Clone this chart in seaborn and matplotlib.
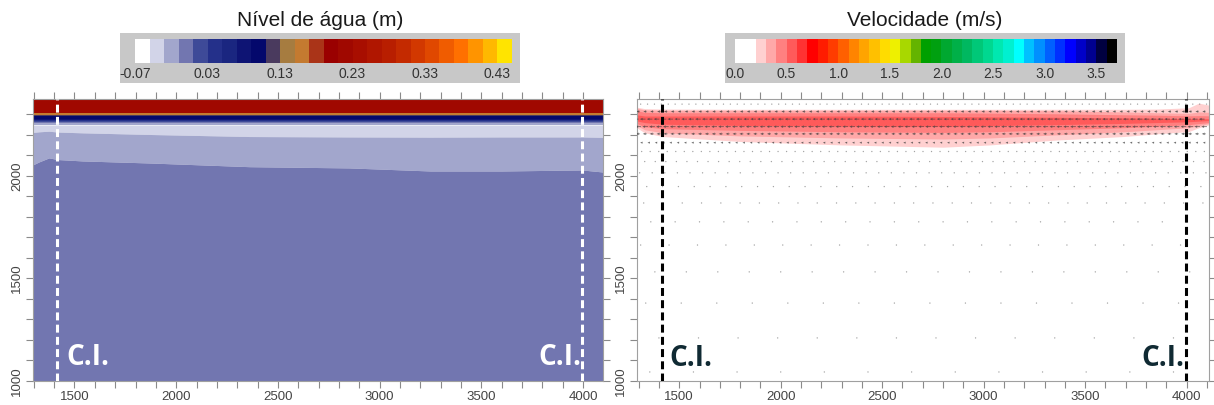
import numpy as np
import matplotlib
matplotlib.use("Agg")
import matplotlib.pyplot as plt
from matplotlib.colors import ListedColormap, BoundaryNorm
from matplotlib.cm import ScalarMappable
from matplotlib.patches import Rectangle
from matplotlib.ticker import MultipleLocator, FuncFormatter, NullLocator
import seaborn as sns

sns.set_theme(style="ticks")
plt.rcParams["font.family"] = ["Liberation Sans", "DejaVu Sans"]

# ---------------- colour scales ----------------
level_edges = np.round(np.arange(-0.07, 0.4501, 0.02), 2)
level_colors = ["#ffffff", "#d2d4e8", "#a2a6cc", "#7276b0", "#3e4a98", "#24308a",
                "#1a2680", "#0e1474", "#04086c", "#4a3a5e", "#a67c40", "#c47a30",
                "#aa3418", "#9a0000", "#a00800", "#a80e00", "#b01600", "#b81e00",
                "#c42a00", "#d23800", "#e04800", "#f05c00", "#ff7000", "#ff9400",
                "#ffb800", "#ffe400"]
level_ticks = [-0.07, 0.03, 0.13, 0.23, 0.33, 0.43]

speed_edges = np.round(np.arange(0.0, 3.7001, 0.1), 1)
speed_colors = ["#ffffff", "#ffffff", "#ffd0d0", "#ffa8a8", "#ff8080", "#ff5a5a",
                "#ff3232", "#ff0000", "#ff1c00", "#ff3c00", "#ff6000", "#ff8400",
                "#ffa400", "#ffc000", "#ffdc00", "#eef000", "#a8d800", "#64b400",
                "#00a000", "#00a010", "#00a830", "#00b048", "#00b860", "#00c878",
                "#00d890", "#00e8b0", "#00f0d0", "#00ffff", "#00c0ff", "#0090ff",
                "#0060ff", "#0030ff", "#0000ff", "#0000c8", "#000090", "#000040",
                "#000000"]
speed_ticks = [0.0, 0.5, 1.0, 1.5, 2.0, 2.5, 3.0, 3.5]

# ---------------- water level field (bands from the surface down) ----------------
lvl_x = [1296, 1325, 1375, 1415, 1540, 1870, 2360, 2850, 3250, 3600, 3995, 4098]
lvl_top = 2375
lvl_values = [0.21, 0.16, 0.14, 0.12, 0.10, 0.07, 0.04, 0.02, 0.00, -0.02, -0.04, -0.02, 0.00]
lvl_bottom_thin = [2305, 2299, 2296, 2293, 2279, 2273, 2268, 2263, 2257, 2248]
lvl_bottom_min = [2212, 2215, 2218, 2214, 2210, 2202, 2192, 2190, 2189, 2190, 2190, 2188]
lvl_bottom_low = [2054, 2068, 2088, 2080, 2073, 2063, 2045, 2039, 2024, 2024, 2029, 2019]
lvl_floor = 1000

# ---------------- velocity field ----------------
vel_x = [1292, 1330, 1420, 1800, 2300, 2800, 3030, 3360, 3690, 3850, 4010, 4060, 4110]
vel_values = [0.25, 0.35, 0.45, 0.55]
vel_top = [
    [2335, 2328, 2326, 2325, 2325, 2325, 2325, 2325, 2325, 2326, 2332, 2355, 2345],
    [2330, 2322, 2320, 2320, 2320, 2320, 2320, 2318, 2312, 2308, 2305, 2312, 2310],
    [2318, 2310, 2308, 2308, 2308, 2308, 2306, 2303, 2298, 2296, 2293, 2294, 2293],
    [2298, 2292, 2292, 2292, 2292, 2290, 2288, 2286, 2283, 2281, 2279, 2279, 2279],
]
vel_bottom = [
    [2234, 2210, 2192, 2168, 2151, 2140, 2151, 2175, 2192, 2205, 2216, 2235, 2249],
    [2245, 2225, 2210, 2195, 2185, 2180, 2185, 2200, 2215, 2225, 2235, 2245, 2255],
    [2255, 2240, 2230, 2222, 2215, 2212, 2215, 2225, 2235, 2242, 2250, 2255, 2260],
    [2268, 2260, 2252, 2246, 2243, 2242, 2245, 2250, 2256, 2260, 2264, 2267, 2270],
]

# mesh rows carrying the velocity vectors
row_y = [2350, 2314, 2277, 2240, 2205, 2162, 2119, 2070, 2015, 1948, 1868, 1776, 1663, 1532, 1380, 1210, 1044]
row_step = [34, 34, 34, 34, 34, 36, 42, 52, 62, 78, 95, 120, 140, 155, 175, 195, 215]
row_speed = [0.04, 0.45, 0.8, 0.8, 0.55, 0.35, 0.15, 0.08, 0.05, 0.03, 0.02, 0.02,
             0.015, 0.012, 0.01, 0.01, 0.01]
row_shift = [10, 5, 0, 12, 6, 20, 15, 30, 5, 40, 25, 60, 10, 80, 35, 100, 55]

boundary_x = [1415, 3995]

# ---------------- figure ----------------
W, H = 1214, 405
fig = plt.figure(figsize=(W / 100, H / 100), dpi=100)


def fig_rect(x0, y0, x1, y1):
    return [x0 / W, 1 - y1 / H, (x1 - x0) / W, (y1 - y0) / H]


ax_l = fig.add_axes(fig_rect(33, 99, 603, 381))
ax_r = fig.add_axes(fig_rect(637, 99, 1209, 381))

lvl_cmap = ListedColormap(level_colors)
lvl_norm = BoundaryNorm(level_edges, lvl_cmap.N)
vel_cmap = ListedColormap(speed_colors)
vel_norm = BoundaryNorm(speed_edges, vel_cmap.N)

# water level bands
bottoms = [np.full(len(lvl_x), b, dtype=float) for b in lvl_bottom_thin]
bottoms += [np.array(lvl_bottom_min, float), np.array(lvl_bottom_low, float),
            np.full(len(lvl_x), lvl_floor, dtype=float)]
upper = np.full(len(lvl_x), lvl_top, dtype=float)
for val, low in zip(lvl_values, bottoms):
    ax_l.fill_between(lvl_x, low, upper, color=lvl_cmap(lvl_norm(val)), lw=0)
    upper = low

# velocity bands
for val, top, bot in zip(vel_values, vel_top, vel_bottom):
    ax_r.fill_between(vel_x, bot, top, color=vel_cmap(vel_norm(val)), lw=0)

# velocity vectors: strong rows in dark grey, weak rows as faint points
groups = {True: ([], [], []), False: ([], [], [])}
for y, step, spd, sh in zip(row_y, row_step, row_speed, row_shift):
    xs = np.arange(1300 + sh, 4105, step)
    gx, gy, gu = groups[spd >= 0.3]
    gx.extend(xs)
    gy.extend([y] * len(xs))
    gu.extend([-spd] * len(xs))
for strong, (gx, gy, gu) in groups.items():
    gx, gy, gu = map(np.asarray, (gx, gy, gu))
    ax_r.quiver(gx, gy, gu, np.zeros_like(gu), angles="xy", scale_units="xy",
                scale=0.8 / 28, width=0.0013, headwidth=3.5, headlength=4,
                headaxislength=3.5, minlength=2,
                color="#3a3a3a" if strong else "#8c8c8c",
                alpha=0.75 if strong else 0.8, zorder=3)

# boundary condition markers
for ax, col in ((ax_l, "white"), (ax_r, "black")):
    for bx in boundary_x:
        ax.axvline(bx, color=col, lw=2.2, ls=(0, (2.6, 1.4)), zorder=4)

ci_font = dict(family=["Open Sans", "DejaVu Sans"], fontweight="bold", fontsize=20)
ax_l.text(boundary_x[0] + 45, 1078, "C.I.", color="white", ha="left", va="baseline", **ci_font)
ax_l.text(boundary_x[1] - 5, 1078, "C.I.", color="white", ha="right", va="baseline", **ci_font)
ax_r.text(boundary_x[0] + 35, 1075, "C.I.", color="#102a33", ha="left", va="baseline", **ci_font)
ax_r.text(boundary_x[1] - 5, 1075, "C.I.", color="#102a33", ha="right", va="baseline", **ci_font)

fmt = FuncFormatter(lambda v, p: f"{int(round(v))}" if int(round(v)) % 500 == 0 else "")
for ax, xl in ((ax_l, (1296, 4098)), (ax_r, (1292, 4110))):
    ax.set_xlim(*xl)
    ax.set_ylim(1000, 2375)
    ax.set_facecolor("white")
    ax.xaxis.set_major_locator(MultipleLocator(100))
    ax.yaxis.set_major_locator(MultipleLocator(100))
    ax.xaxis.set_major_formatter(fmt)
    ax.yaxis.set_major_formatter(fmt)
    ax.tick_params(which="both", direction="out", length=5, width=0.8, color="#8a8a8a",
                   labelcolor="#444444", labelsize=9.5, top=True, right=True,
                   labeltop=False, labelright=False, pad=2)
    ax.tick_params(axis="y", labelrotation=90)
    for lbl in ax.get_yticklabels():
        lbl.set_va("center")
    for sp in ax.spines.values():
        sp.set_color("#a0a0a0")
        sp.set_linewidth(0.8)
    ax.grid(False)

# colour bars in grey frames with titles
for (bx0, bx1, cx0, cx1), cmap, norm, ticks, fmtstr, title in (
        ((120, 520, 135, 512), lvl_cmap, lvl_norm, level_ticks, "{:.2f}", "Nível de água (m)"),
        ((725, 1125, 735, 1117), vel_cmap, vel_norm, speed_ticks, "{:.1f}", "Velocidade (m/s)")):
    fig.add_artist(Rectangle((bx0 / W, 1 - 83 / H), (bx1 - bx0) / W, 50 / H,
                             transform=fig.transFigure, facecolor="#c8c8c8",
                             edgecolor="none", zorder=0))
    cax = fig.add_axes(fig_rect(cx0, 38.5, cx1, 62.5))
    cb = fig.colorbar(ScalarMappable(norm=norm, cmap=cmap), cax=cax,
                      orientation="horizontal", spacing="proportional")
    cb.outline.set_visible(False)
    cb.set_ticks(ticks)
    cb.set_ticklabels([fmtstr.format(t) for t in ticks])
    cax.xaxis.set_minor_locator(NullLocator())
    cax.tick_params(which="both", length=0, labelsize=10, labelcolor="#333333", pad=3)
    fig.text((bx0 + bx1) / 2 / W, 1 - 20 / H, title, ha="center", va="center",
             fontsize=15, color="#1a1a1a")

fig.savefig("out.png", dpi=100, facecolor="white")
